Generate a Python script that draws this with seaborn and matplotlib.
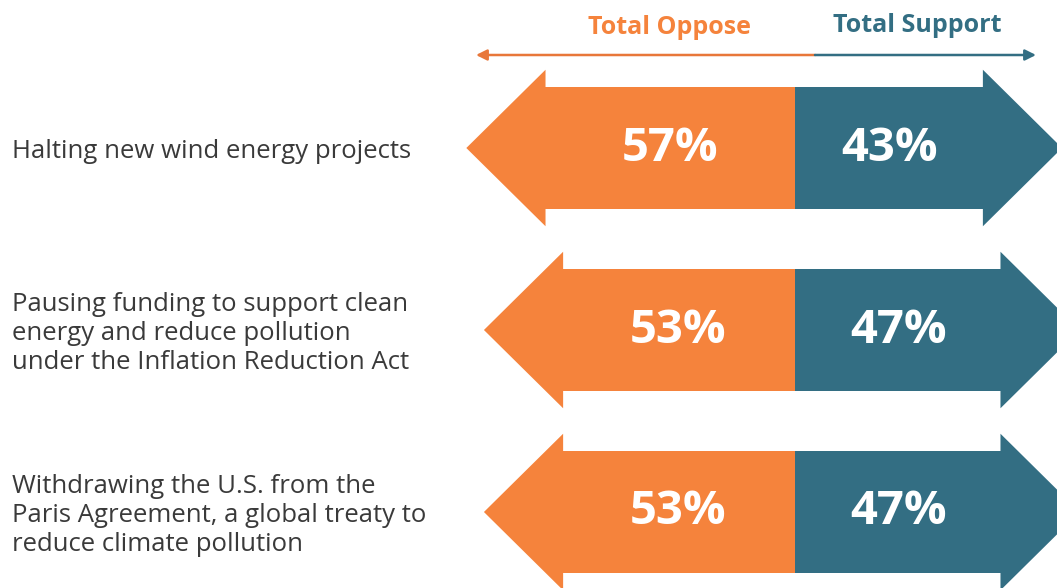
import numpy as np
import pandas as pd
import matplotlib.pyplot as plt
from matplotlib.patches import Polygon
import seaborn as sns

# Survey items and shares (percent)
items = [
    "Halting new wind energy projects",
    "Pausing funding to support clean\nenergy and reduce pollution\nunder the Inflation Reduction Act",
    "Withdrawing the U.S. from the\nParis Agreement, a global treaty to\nreduce climate pollution",
]
oppose = [57, 53, 53]
support = [43, 47, 47]

ORANGE = "#F5833C"
TEAL = "#336E83"
LABEL = "#3A3A3A"

sns.set_theme(style="white")
plt.rcParams['font.family'] = ['Open Sans', 'DejaVu Sans']

W, H = 1057, 588
fig = plt.figure(figsize=(W / 100, H / 100), dpi=100)
ax = fig.add_axes([0, 0, 1, 1])

df = pd.DataFrame({'item': items, 'oppose': oppose, 'support': support})
df['oppose_neg'] = -df['oppose']

body_h = 0.67
head_h = 0.86
head_len = 17.7

# arrow bodies
sns.barplot(data=df, x='oppose_neg', y='item', orient='h', color=ORANGE,
            saturation=1, width=body_h, errorbar=None, linewidth=0, ax=ax)
sns.barplot(data=df, x='support', y='item', orient='h', color=TEAL,
            saturation=1, width=body_h, errorbar=None, linewidth=0, ax=ax)

# arrow heads, values and row labels
for i, (o, s) in enumerate(zip(oppose, support)):
    ax.add_patch(Polygon([(-o + 0.3, i - head_h / 2), (-o - head_len, i),
                          (-o + 0.3, i + head_h / 2)],
                         closed=True, facecolor=ORANGE, edgecolor='none'))
    ax.add_patch(Polygon([(s - 0.3, i - head_h / 2), (s + head_len, i),
                          (s - 0.3, i + head_h / 2)],
                         closed=True, facecolor=TEAL, edgecolor='none'))
    ax.text(-o / 2, i, f"{o}%", color='white', fontsize=34, fontweight='bold',
            ha='center', va='center')
    ax.text(s / 2, i, f"{s}%", color='white', fontsize=34, fontweight='bold',
            ha='center', va='center')
    ax.text(12 / W, i + 0.02, items[i], transform=ax.get_yaxis_transform(),
            ha='left', va='center', fontsize=18.5, color=LABEL, linespacing=1.22)

px = 4.4
cx = 795
ax.set_xlim(-cx / px, (W - cx) / px)
ax.set_ylim((H - 148) / 182, -148 / 182)
ax.axis('off')

# header
fig.text(670 / W, 1 - 27 / H, "Total Oppose", color=ORANGE, fontsize=18,
         fontweight='bold', ha='center', va='center')
fig.text(917 / W, 1 - 25 / H, "Total Support", color=TEAL, fontsize=18,
         fontweight='bold', ha='center', va='center')
yl = 1 - 55 / H
ax.annotate('', xy=(476 / W, yl), xytext=(815 / W, yl), xycoords='figure fraction',
            arrowprops=dict(arrowstyle='-|>', color='#E8773A', lw=1.8,
                            mutation_scale=16, shrinkA=0, shrinkB=0))
ax.annotate('', xy=(1036 / W, yl), xytext=(815 / W, yl), xycoords='figure fraction',
            arrowprops=dict(arrowstyle='-|>', color=TEAL, lw=1.8,
                            mutation_scale=16, shrinkA=0, shrinkB=0))

fig.savefig('out.png', dpi=100)
